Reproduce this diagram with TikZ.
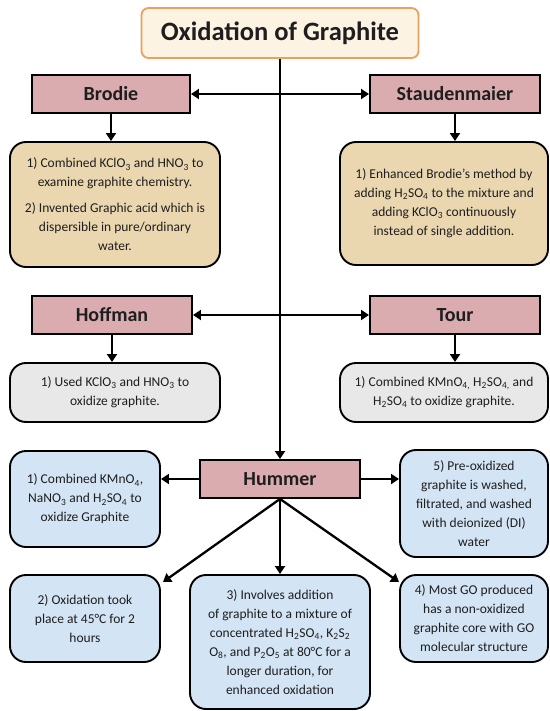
\documentclass[tikz,border=0pt]{standalone}
\usepackage{fontspec}
\setmainfont{Carlito}
\usetikzlibrary{arrows.meta}
\definecolor{pinkhd}{HTML}{DAABAF}
\definecolor{tanbox}{HTML}{EAD7B0}
\definecolor{greybox}{HTML}{E8E8E8}
\definecolor{bluebox}{HTML}{D3E4F4}
\definecolor{titlefill}{HTML}{FDF3E3}
\definecolor{titleline}{HTML}{EBA05E}
\definecolor{txt}{HTML}{1E1E1E}
\tikzset{
  hdbox/.style={draw=black, line width=1.9pt, fill=pinkhd, minimum height=38pt,
    font=\fontsize{20}{23}\selectfont\bfseries, text=txt, inner sep=0pt},
  descbox/.style={draw=black, line width=1.9pt, rounded corners=16pt, align=center,
    font=\fontsize{13.5}{19}\selectfont, text=txt, inner sep=0pt},
  conn/.style={line width=2.3pt, -{Triangle[length=8pt,width=10pt]}},
  bconn/.style={line width=2.3pt, {Triangle[length=8pt,width=10pt]}-{Triangle[length=8pt,width=10pt]}}
}
\newcommand{\sbs}[1]{\textsubscript{#1}}
\begin{document}
\begin{tikzpicture}[x=1pt,y=1pt]
\useasboundingbox (0,0) rectangle (549,-711);
% title
\node[draw=titleline, line width=1.8pt, fill=titlefill, rounded corners=7pt,
  minimum width=277pt, minimum height=50pt, inner sep=0pt, text=txt,
  font=\fontsize{26.5}{30}\selectfont\bfseries] (title) at (280,-33) {Oxidation of Graphite};
% headers
\node[hdbox, minimum width=158pt] (brodie) at (111,-94) {Brodie};
\node[hdbox, minimum width=170pt] (staud) at (455,-94) {Staudenmaier};
\node[hdbox, minimum width=160pt] (hoffman) at (112,-315) {Hoffman};
\node[hdbox, minimum width=170pt] (tour) at (455,-315) {Tour};
\node[hdbox, minimum width=160pt] (hummer) at (280,-479) {Hummer};
% descriptions
\node[descbox, fill=tanbox, minimum width=210pt, minimum height=125pt] (bdesc) at (115,-204.5)
  {1) Combined KClO\sbs{3} and HNO\sbs{3} to\\examine graphite chemistry.\\[7pt]
   2) Invented Graphic acid which is\\dispersible in pure/ordinary\\water.};
\node[descbox, fill=tanbox, minimum width=208pt, minimum height=123pt] (sdesc) at (444,-203.5)
  {1) Enhanced Brodie’s method by\\adding H\sbs{2}SO\sbs{4} to the mixture and\\adding KClO\sbs{3} continuously\\instead of single addition.};
\node[descbox, fill=greybox, minimum width=210pt, minimum height=59pt] (hdesc) at (115,-392.5)
  {1) Used KClO\sbs{3} and HNO\sbs{3} to\\oxidize graphite.};
\node[descbox, fill=greybox, minimum width=208pt, minimum height=59pt] (tdesc) at (444,-392.5)
  {1) Combined KMnO\sbs{4,} H\sbs{2}SO\sbs{4,} and\\H\sbs{2}SO\sbs{4} to oxidize graphite.};
% Hummer boxes
\node[descbox, fill=bluebox, minimum width=150pt, minimum height=96pt] (b1) at (85,-499)
  {1) Combined KMnO\sbs{4},\\NaNO\sbs{3} and H\sbs{2}SO\sbs{4} to\\oxidize Graphite};
\node[descbox, fill=bluebox, minimum width=148pt, minimum height=107pt] (b5) at (474,-503.5)
  {5) Pre-oxidized\\graphite is washed,\\filtrated, and washed\\with deionized (DI)\\water};
\node[descbox, fill=bluebox, minimum width=150pt, minimum height=87pt] (b2) at (85,-618.5)
  {2) Oxidation took\\place at 45°C for 2\\hours};
\node[descbox, fill=bluebox, minimum width=180pt, minimum height=134pt] (b3) at (280,-642)
  {3) Involves addition\\of graphite to a mixture of\\concentrated H\sbs{2}SO\sbs{4}, K\sbs{2}S\sbs{2}\\O\sbs{8}, and P\sbs{2}O\sbs{5} at 80°C for a\\longer duration, for\\enhanced oxidation};
\node[descbox, fill=bluebox, minimum width=148pt, minimum height=87pt] (b4) at (474,-618.5)
  {4) Most GO produced\\has a non-oxidized\\graphite core with GO\\molecular structure};
% connectors
\draw[conn] (title.south) -- (hummer.north);
\draw[bconn] (brodie.east) -- (staud.west);
\draw[bconn] (hoffman.east) -- (tour.west);
\draw[conn] (brodie.south) -- (brodie.south |- bdesc.north);
\draw[conn] (staud.south) -- (staud.south |- sdesc.north);
\draw[conn] (hoffman.south) -- (hoffman.south |- hdesc.north);
\draw[conn] (tour.south) -- (tour.south |- tdesc.north);
\draw[conn] (hummer.west) -- (hummer.west -| b1.east);
\draw[conn] (hummer.east) -- (hummer.east -| b5.west);
\draw[conn] (hummer.south) -- (b3.north);
\coordinate (b2tip) at ([shift={(2pt,-8pt)}]b2.north east);
\coordinate (b4tip) at ([shift={(0pt,-8pt)}]b4.north west);
\draw[conn] (hummer.south) -- (b2tip);
\draw[conn] (hummer.south) -- (b4tip);
\end{tikzpicture}
\end{document}
